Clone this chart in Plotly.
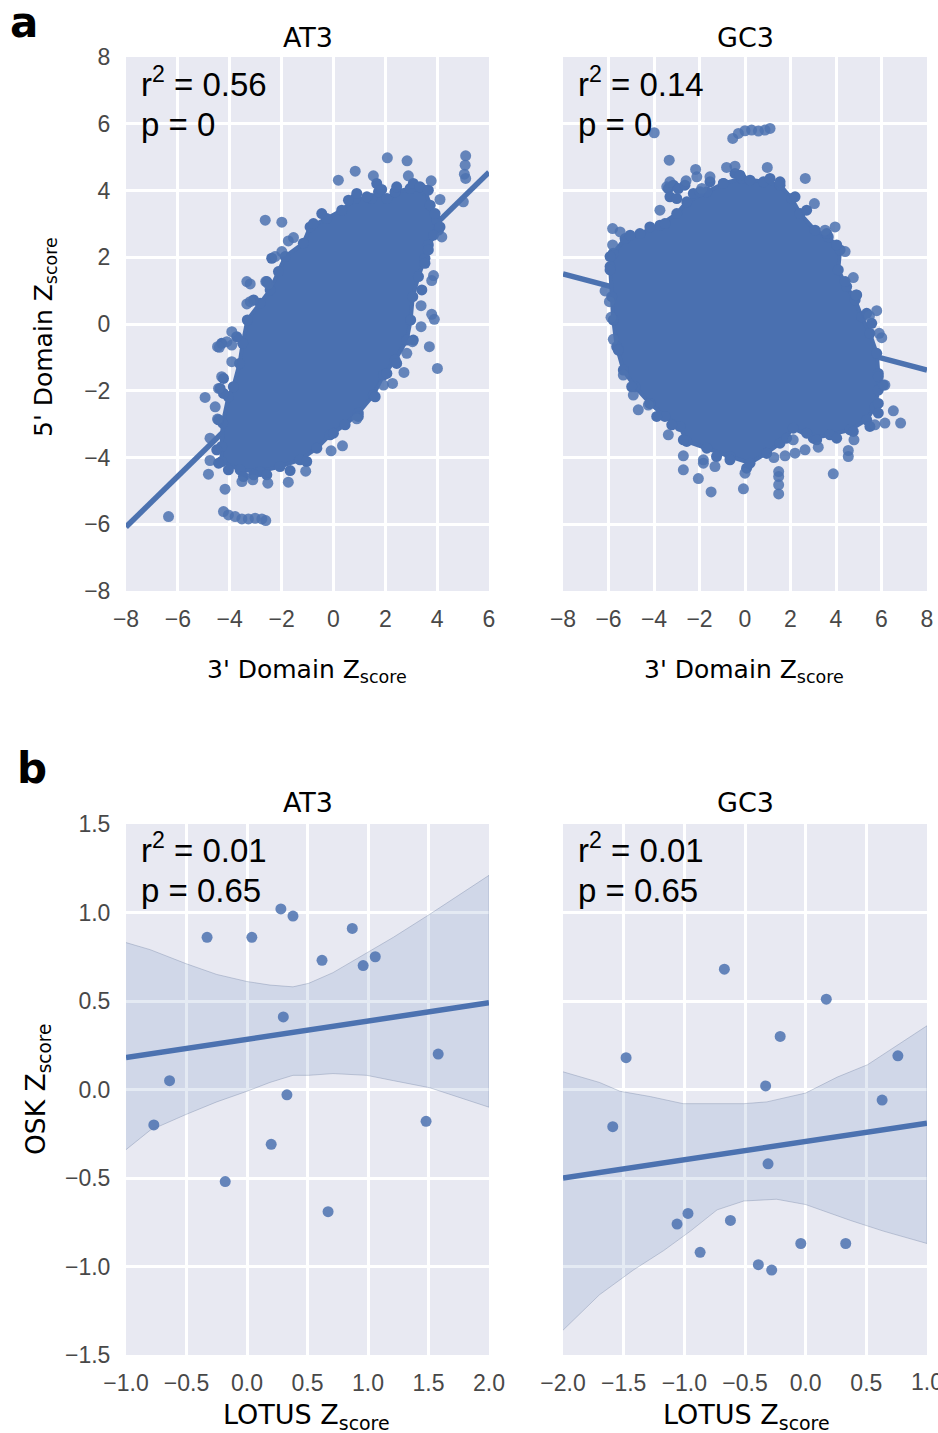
import plotly.graph_objects as go

W, H = 938, 1433
BLUE = "#4A70B0"
LINE = "#4C72B0"
BG = "#E8E9F2"
TICK = "#484848"

# ---------- panel a, AT3 ----------
a_at3_edge_x = [2.38,2.96,3.53,3.73,3.98,4.05,3.66,3.53,3.28,3.06,2.98,2.83,2.38,1.93,1.54,0.96,0.45,-0.13,-0.64,-1.29,-2.06,-2.83,-3.60,-4.31,-4.31,-4.27,-4.05,-3.86,-3.62,-3.50,-3.32,-2.83,-2.44,-2.12,-1.86,-1.16,-0.90,-0.26,0.32,0.84,1.48,1.74,2.06]
a_at3_edge_y = [3.96,4.06,4.01,3.56,3.11,2.81,2.37,1.97,1.42,0.82,0.12,-0.48,-1.08,-1.53,-2.13,-2.67,-3.02,-3.32,-3.72,-4.07,-4.27,-4.42,-4.37,-4.12,-3.67,-2.97,-2.18,-1.88,-1.18,-0.58,0.12,0.62,1.02,1.57,2.02,2.42,2.91,3.16,3.41,3.76,3.76,3.96,3.76]
a_at3_out_x = [2.08,2.84,5.10,5.08,5.05,5.10,5.01,0.19,0.84,1.54,2.89,3.77,4.11,-2.63,-1.99,-1.54,-1.74,-1.99,-2.25,-3.34,-3.21,-2.61,-2.51,-3.21,-3.34,-3.92,-4.11,-4.47,-4.40,-3.92,-3.92,-4.31,-4.43,-4.95,-4.56,-4.47,-4.76,-4.76,-4.82,-4.18,-3.53,-3.11,-2.53,-1.74,-1.07,-0.09,0.35,0.90,2.28,1.93,2.72,2.83,3.05,3.70,4.01,3.38,3.89,3.79,3.38,3.86,3.79,4.18,-6.36,-4.24,-4.05,-3.79,-3.53,-3.28,-3.02,-2.76,-2.61]
a_at3_out_y = [4.98,4.89,5.04,4.76,4.49,4.36,3.66,4.31,4.58,4.44,4.44,4.29,3.73,3.11,3.05,2.59,2.49,2.17,2.02,1.27,1.20,1.27,1.20,0.67,0.60,-0.23,-0.53,-0.68,-0.70,-0.63,-1.13,-1.58,-1.93,-2.20,-2.48,-2.85,-3.42,-4.09,-4.50,-4.95,-4.72,-4.67,-4.77,-4.74,-4.41,-3.80,-3.65,-2.84,-1.78,-1.83,-1.45,-0.88,-0.53,-0.68,-1.33,-0.08,0.14,0.29,0.55,1.45,1.30,2.61,-5.77,-5.62,-5.72,-5.77,-5.84,-5.84,-5.82,-5.84,-5.89]
a_at3_rim_x = [1.67,1.86,2.44,3.08,3.34,3.66,3.92,4.11,3.86,0.90,0.58,1.29,-0.45,-0.77,-2.38,-2.57,-3.08,-3.73,-4.31,-4.24,-4.37,-4.24,-4.43,-4.50,-4.43,-4.05,-3.47,-3.08,-2.57,-1.67,-1.03,0.00,0.96,1.61,2.06,2.44,3.08,3.66,3.53,3.41]
a_at3_rim_y = [4.21,4.03,4.11,4.21,4.11,4.01,3.31,2.91,2.66,3.91,3.71,3.81,3.31,3.01,1.97,1.27,0.72,-0.38,-0.58,-1.63,-1.93,-2.08,-2.87,-3.77,-4.17,-4.37,-4.57,-4.52,-4.52,-4.39,-4.12,-3.27,-2.77,-2.18,-1.48,-1.18,-0.48,2.22,1.82,1.02]
a_at3_fit_x = [-8, 6]
a_at3_fit_y = [-6.08, 4.55]

# ---------- panel a, GC3 ----------
a_gc3_edge_x = [-0.95,-0.15,0.81,1.54,2.05,2.42,3.08,3.66,4.18,4.10,4.47,4.84,5.13,5.49,5.79,5.86,5.86,5.71,5.35,4.62,3.74,3.00,2.12,1.54,0.95,0.22,-0.66,-1.68,-2.56,-2.86,-3.52,-4.18,-4.84,-5.35,-5.64,-5.79,-5.86,-5.93,-5.79,-5.27,-4.62,-3.74,-3.00,-2.56,-1.68]
a_gc3_edge_y = [4.21,4.36,4.26,4.16,3.76,3.31,2.81,2.61,2.22,1.62,1.12,0.72,0.22,-0.28,-0.88,-1.48,-1.98,-2.48,-2.87,-3.17,-3.32,-3.42,-3.12,-3.57,-3.87,-4.17,-3.97,-3.72,-3.52,-3.07,-2.77,-2.38,-1.88,-1.38,-0.68,0.12,0.82,1.72,2.12,2.56,2.71,2.96,3.31,3.66,3.96]
a_gc3_out_x = [-3.99,-3.33,-2.17,-1.54,-0.81,-0.44,0.98,2.65,3.05,3.96,3.52,4.40,4.76,4.88,5.79,5.47,5.90,6.01,6.15,6.52,6.84,6.15,5.71,4.79,3.22,2.64,2.20,1.76,1.27,2.12,4.54,4.54,3.88,1.48,1.48,1.48,1.48,-0.07,0.00,-1.49,-2.05,-2.71,-2.71,-1.32,-1.83,-1.83,-3.37,-4.69,-4.25,-4.91,-5.35,-5.79,-5.89,-5.96,-6.15,-5.82,-5.82,-5.49,-3.74,-3.44,-3.30,-2.59,-1.90,-2.12,-0.54,-0.29,0.00,0.29,0.59,0.88,1.10]
a_gc3_out_y = [5.73,4.91,4.63,4.41,4.69,4.73,4.69,4.36,3.61,2.91,2.81,2.17,1.39,0.87,0.40,0.24,-0.28,-0.41,-1.83,-2.60,-2.97,-2.97,-3.02,-3.47,-3.69,-3.77,-3.87,-3.95,-4.00,-3.47,-3.79,-3.97,-4.49,-4.42,-4.57,-4.82,-5.09,-4.94,-4.47,-5.03,-4.63,-4.37,-3.95,-4.27,-4.07,-4.17,-3.32,-2.57,-2.43,-2.13,-1.53,-0.46,0.20,0.67,0.99,2.37,2.86,2.76,3.41,4.11,4.26,4.29,4.06,4.41,5.56,5.71,5.79,5.81,5.78,5.81,5.86]
a_gc3_rim_x = [-3.37,-3.15,-2.93,-2.64,-3.30,-3.00,-2.27,-1.98,-1.54,-0.44,-0.22,0.22,1.10,1.54,2.20,2.71,3.59,4.03,4.40,4.91,5.35,5.57,5.86,6.08,5.86,5.86,5.49,4.76,4.03,3.15,2.71,1.83,0.95,0.07,-0.66,-1.25,-2.71,-3.22,-3.88,-4.18,-4.98,-5.57,-5.93,-5.93,-5.05,-4.18,-3.52]
a_gc3_rim_y = [4.06,4.16,4.06,4.16,3.81,3.76,3.91,3.96,4.26,4.51,4.46,4.31,4.36,4.26,3.81,3.41,2.71,2.37,1.27,0.87,0.32,0.02,-1.58,-1.83,-2.38,-2.67,-3.07,-3.22,-3.42,-3.47,-3.27,-3.42,-3.87,-4.32,-4.07,-3.97,-3.47,-3.02,-2.77,-2.38,-1.88,-0.78,1.62,2.02,2.66,2.91,3.01]
a_gc3_fit_x = [-8, 8]
a_gc3_fit_y = [1.5, -1.38]

# ---------- panel b, AT3 ----------
b_at3_x = [-0.33,0.04,0.28,0.38,0.87,0.62,0.96,1.06,0.30,1.58,-0.64,0.33,-0.77,0.20,1.48,-0.18,0.67]
b_at3_y = [0.86,0.86,1.02,0.98,0.91,0.73,0.70,0.75,0.41,0.20,0.05,-0.03,-0.20,-0.31,-0.18,-0.52,-0.69]
b_at3_fit_x = [-1, 2]
b_at3_fit_y = [0.18, 0.49]
b_at3_ci_x = [-1.0,-0.80,-0.50,-0.25,0.0,0.19,0.38,0.51,0.71,0.99,1.21,1.51,2.0]
b_at3_ci_hi = [0.83,0.79,0.71,0.65,0.61,0.59,0.58,0.60,0.66,0.77,0.86,0.99,1.21]
b_at3_ci_lo = [-0.34,-0.23,-0.14,-0.07,-0.01,0.04,0.08,0.08,0.09,0.08,0.05,0.01,-0.10]

# ---------- panel b, GC3 ----------
b_gc3_x = [-0.67,0.17,-0.21,-1.48,0.76,-0.33,0.63,-1.59,-0.31,-0.97,-1.06,-0.62,-0.87,-0.04,0.33,-0.39,-0.28]
b_gc3_y = [0.68,0.51,0.30,0.18,0.19,0.02,-0.06,-0.21,-0.42,-0.70,-0.76,-0.74,-0.92,-0.87,-0.87,-0.99,-1.02]
b_gc3_fit_x = [-2, 1]
b_gc3_fit_y = [-0.50, -0.19]
b_gc3_hi_x = [-2.0,-1.70,-1.53,-1.28,-1.01,-0.73,-0.51,-0.32,0.0,0.26,0.51,1.0]
b_gc3_hi = [0.10,0.04,-0.01,-0.04,-0.08,-0.08,-0.08,-0.07,-0.02,0.07,0.14,0.36]
b_gc3_lo_x = [-2.0,-1.70,-1.42,-1.17,-0.95,-0.73,-0.51,-0.24,0.0,0.37,0.64,1.0]
b_gc3_lo = [-1.36,-1.16,-1.02,-0.91,-0.80,-0.68,-0.63,-0.62,-0.65,-0.74,-0.80,-0.87]

# ---------- ticks and texts ----------
a_ticks_left = [-8,-6,-4,-2,0,2,4,6]
a_ticks_right = [-8,-6,-4,-2,0,2,4,6,8]
a_ticks_y = [-8,-6,-4,-2,0,2,4,6,8]
b_ticks_left = [-1.0,-0.5,0.0,0.5,1.0,1.5,2.0]
b_ticks_right = [-2.0,-1.5,-1.0,-0.5,0.0,0.5,1.0]
b_ticks_y = [-1.5,-1.0,-0.5,0.0,0.5,1.0,1.5]
stats = ["r<sup>2</sup> = 0.56", "p = 0", "r<sup>2</sup> = 0.14", "p = 0",
         "r<sup>2</sup> = 0.01", "p = 0.65", "r<sup>2</sup> = 0.01", "p = 0.65"]

SANS = "Liberation Sans, Arial, Helvetica, sans-serif"
DEJA = "DejaVu Sans"

fig = go.Figure()

def fx(a, b): return [a / W, b / W]
def fy(top, bot): return [1 - bot / H, 1 - top / H]

def axes(n, xdom, ydom, xr, yr, xt, yt, fmt, labels):
    xk, yk = ("xaxis", "yaxis") if n == 1 else (f"xaxis{n}", f"yaxis{n}")
    common = dict(showgrid=True, gridcolor="white", gridwidth=2.5, zeroline=False, automargin=False,
                  showline=False, ticks="outside", tickcolor="rgba(0,0,0,0)",
                  tickfont=dict(family=SANS, size=23, color=TICK),
                  tickformat=fmt, fixedrange=True)
    fig.update_layout({
        xk: dict(domain=fx(*xdom), range=xr, tickvals=xt, ticklen=7, anchor=f"y{n if n > 1 else ''}", **common),
        yk: dict(domain=fy(*ydom), range=yr, tickvals=yt, ticklen=10, showticklabels=labels,
                 anchor=f"x{n if n > 1 else ''}", **common),
    })

def suffix(n): return "" if n == 1 else str(n)

def fit(n, x, y):
    s = suffix(n)
    fig.add_trace(go.Scatter(x=x, y=y, mode="lines", line=dict(color=LINE, width=5.5), xaxis=f"x{s}", yaxis=f"y{s}"))

def cloud(n, ex, ey, rx, ry, ox, oy):
    s = suffix(n)
    fig.add_trace(go.Scatter(x=ex + ex[:1], y=ey + ey[:1], mode="lines+markers", fill="toself", fillcolor=BLUE,
                             line=dict(width=4, color=BLUE), marker=dict(size=11, color=BLUE),
                             xaxis=f"x{s}", yaxis=f"y{s}"))
    fig.add_trace(go.Scatter(x=rx, y=ry, mode="markers", marker=dict(size=11, color=BLUE, line=dict(width=0)),
                             xaxis=f"x{s}", yaxis=f"y{s}"))
    fig.add_trace(go.Scatter(x=ox, y=oy, mode="markers", marker=dict(size=11, color=LINE, opacity=0.85, line=dict(width=0)),
                             xaxis=f"x{s}", yaxis=f"y{s}"))

def band(n, xh, hi, xl, lo):
    s = suffix(n)
    fig.add_trace(go.Scatter(x=xh + xl[::-1], y=hi + lo[::-1], mode="lines", fill="toself",
                             fillcolor="rgba(76,114,176,0.15)", line=dict(width=1, color="rgba(110,125,160,0.35)"),
                             xaxis=f"x{s}", yaxis=f"y{s}"))

def dots(n, x, y):
    s = suffix(n)
    fig.add_trace(go.Scatter(x=x, y=y, mode="markers", marker=dict(size=11, color=LINE, opacity=0.85, line=dict(width=0)),
                             xaxis=f"x{s}", yaxis=f"y{s}"))

fit(1, a_at3_fit_x, a_at3_fit_y)
cloud(1, a_at3_edge_x, a_at3_edge_y, a_at3_rim_x, a_at3_rim_y, a_at3_out_x, a_at3_out_y)
fit(2, a_gc3_fit_x, a_gc3_fit_y)
cloud(2, a_gc3_edge_x, a_gc3_edge_y, a_gc3_rim_x, a_gc3_rim_y, a_gc3_out_x, a_gc3_out_y)
band(3, b_at3_ci_x, b_at3_ci_hi, b_at3_ci_x, b_at3_ci_lo)
dots(3, b_at3_x, b_at3_y)
fit(3, b_at3_fit_x, b_at3_fit_y)
band(4, b_gc3_hi_x, b_gc3_hi, b_gc3_lo_x, b_gc3_lo)
dots(4, b_gc3_x, b_gc3_y)
fit(4, b_gc3_fit_x, b_gc3_fit_y)

axes(1, (126, 489), (57, 591), [-8, 6], [-8, 8], a_ticks_left, a_ticks_y, "d", True)
axes(2, (563, 927), (57, 591), [-8, 8], [-8, 8], a_ticks_right, a_ticks_y, "d", False)
axes(3, (126, 489), (824, 1355), [-1, 2], [-1.5, 1.5], b_ticks_left, b_ticks_y, ".1f", True)
axes(4, (563, 927), (824, 1355), [-2, 1], [-1.5, 1.5], b_ticks_right, b_ticks_y, ".1f", False)

def text(t, x, y, size, fam=SANS, anchor="left", weight=None, color="#000", angle=0):
    fig.add_annotation(text=t, x=x / W, y=1 - y / H, xref="paper", yref="paper", showarrow=False,
                       xanchor=anchor, yanchor="middle", textangle=angle,
                       font=dict(family=fam, size=size, color=color, weight=weight))

ZA = "3' Domain Z<sub>score</sub>"
ZL = "LOTUS Z<sub>score</sub>"
for i, (x0, cx) in enumerate([(139, 308), (576, 745)]):
    text(["AT3", "GC3"][i], cx, 37, 27, DEJA, "center")
    text(["AT3", "GC3"][i], cx, 802, 27, DEJA, "center")
    text(stats[i * 2], x0, 82, 33)
    text(stats[i * 2 + 1], x0, 124, 33)
    text(stats[4 + i * 2], x0, 848, 33)
    text(stats[5 + i * 2], x0, 890, 33)
    text(ZA, cx - 1, 671, 25, DEJA, "center")
    text(ZL, [306, 746][i], 1416, 27, DEJA, "center")
text("5' Domain Z<sub>score</sub>", 45, 337, 25, DEJA, "center", angle=-90)
text("OSK Z<sub>score</sub>", 37, 1090, 26.5, DEJA, "center", angle=-90)
text("a", 24, 22, 42, DEJA, "center", "bold")
text("b", 32, 768, 42, DEJA, "center", "bold")
# the last tick label of the lower right panel runs off the page, as in the reference
text(f"{b_ticks_right[-1]:.1f}", 927, 1382, 23, SANS, "center", color=TICK)

fig.update_layout(width=W, height=H, margin=dict(l=0, r=0, t=0, b=0), showlegend=False,
                  plot_bgcolor=BG, paper_bgcolor="white", hovermode=False)

fig.write_html("out.html", config={"displayModeBar": False},
               post_script="document.body.style.margin='0';document.body.style.overflow='hidden';")
